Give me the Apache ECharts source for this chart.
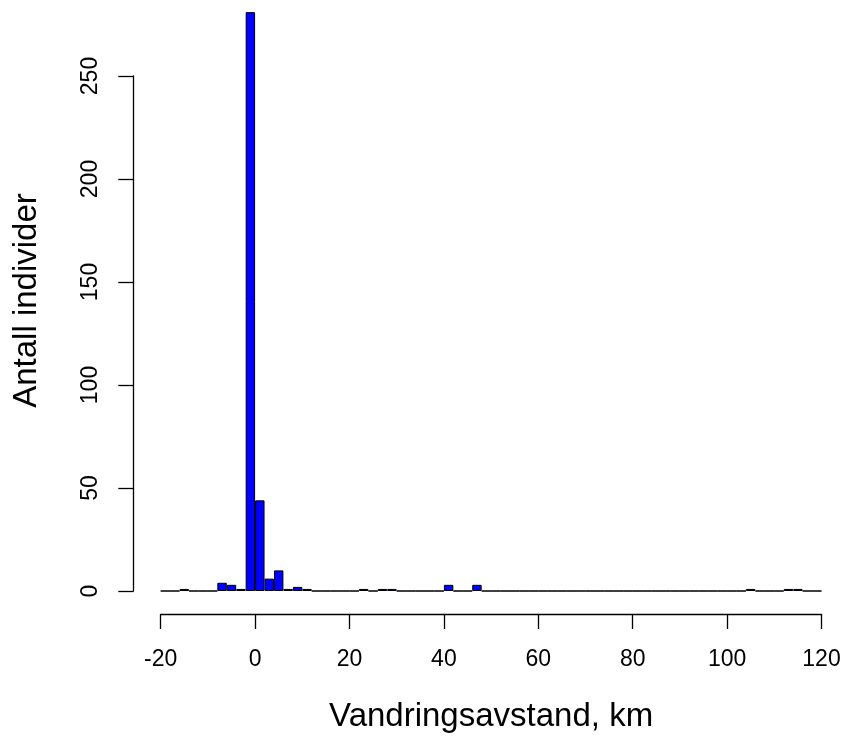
<!DOCTYPE html>
<html>
<head>
<meta charset="utf-8">
<script src="https://cdn.jsdelivr.net/npm/echarts@6/dist/echarts.min.js"></script>
<style>html,body{margin:0;padding:0;background:#fff;}#c{width:849px;height:740px;}</style>
</head>
<body>
<div id="c"></div>
<script>
// Histogram bins (width 2 km), left edges from -20 to 118
var binStarts = [-20,-18,-16,-14,-12,-10,-8,-6,-4,-2,0,2,4,6,8,10,12,14,16,18,20,22,24,26,28,30,32,34,36,38,40,42,44,46,48,50,52,54,56,58,60,62,64,66,68,70,72,74,76,78,80,82,84,86,88,90,92,94,96,98,100,102,104,106,108,110,112,114,116,118];
var counts    = [0,0,1,0,0,0,4,3,1,281,44,6,10,1,2,1,0,0,0,0,0,1,0,1,1,0,0,0,0,0,3,0,0,3,0,0,0,0,0,0,0,0,0,0,0,0,0,0,0,0,0,0,0,0,0,0,0,0,0,0,0,0,1,0,0,0,1,1,0,0];
var binWidth = 2;
var xTicks = [-20,0,20,40,60,80,100,120];
var yTicks = [0,50,100,150,200,250];
var xTitle = 'Vandringsavstand, km';
var yTitle = 'Antall individer';

var data = binStarts.map(function(s,i){ return [s + binWidth/2, counts[i]]; });
var font = 'Liberation Sans, Arial, sans-serif';
var chart = echarts.init(document.getElementById('c'), null, {renderer:'canvas'});
chart.setOption({
  animation: false,
  backgroundColor: '#ffffff',
  grid: {left: 160.7, right: 27.5, top: 76, bottom: 149, containLabel: false},
  xAxis: {
    type: 'value', min: xTicks[0], max: xTicks[xTicks.length-1], interval: 20,
    offset: 23,
    axisLine: {show: true, onZero: false, lineStyle: {color: '#000', width: 1.3}},
    axisTick: {show: true, length: 15, lineStyle: {color: '#000', width: 1.3}},
    axisLabel: {fontSize: 23, color: '#000', fontFamily: font, margin: 34},
    splitLine: {show: false},
    name: xTitle, nameLocation: 'middle', nameGap: 86,
    nameTextStyle: {fontSize: 33, color: '#000', fontFamily: font}
  },
  yAxis: {
    type: 'value', min: yTicks[0], max: yTicks[yTicks.length-1], interval: 50,
    offset: 27.4,
    axisLine: {show: true, onZero: false, lineStyle: {color: '#000', width: 1.3}},
    axisTick: {show: true, length: 15, lineStyle: {color: '#000', width: 1.3}},
    axisLabel: {fontSize: 23, color: '#000', fontFamily: font, margin: 31, rotate: 90},
    splitLine: {show: false},
    name: yTitle, nameLocation: 'middle', nameGap: 90,
    nameTextStyle: {fontSize: 33, color: '#000', fontFamily: font, padding: [0,0,0,66]}
  },
  series: [{
    type: 'bar',
    data: data,
    barWidth: '100%',
    clip: false,
    itemStyle: {color: '#0000ff', borderColor: '#000', borderWidth: 1}
  }]
});
</script>
</body>
</html>
